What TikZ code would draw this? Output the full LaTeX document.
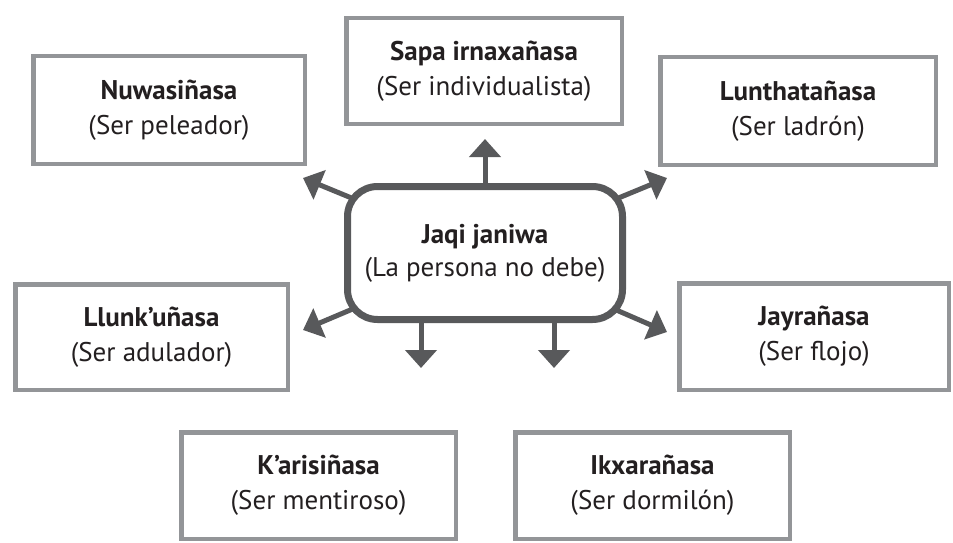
\documentclass[tikz,border=0pt]{standalone}
\usepackage{fontspec}
\setmainfont{PT Sans}
\usetikzlibrary{arrows.meta,backgrounds}
\definecolor{boxgray}{HTML}{939598}
\definecolor{arrowgray}{HTML}{58595B}
\definecolor{textblack}{HTML}{231F20}
\begin{document}
\begin{tikzpicture}[x=1pt,y=-1pt,
  leaf/.style={draw=boxgray, line width=4.5pt, fill=white, align=center, inner sep=0pt,
    text=textblack, font=\fontsize{27}{35}\selectfont},
  hub/.style={draw=arrowgray, line width=7pt, rounded corners=30pt, fill=white, align=center,
    inner sep=0pt, minimum width=275pt, minimum height=133pt, text=textblack,
    font=\fontsize{27}{33}\selectfont},
  arr/.style={draw=arrowgray, line width=5pt, -{Triangle[width=31pt,length=18pt]}}]
\useasboundingbox (0,0) rectangle (953,543);

\node[hub] (hub) at (485,253) {\textbf{Jaqi janiwa}\\(La persona no debe)};

\node[leaf, minimum width=271.5pt, minimum height=107.5pt] (nuw) at (169,110) {\textbf{Nuwasiñasa}\\(Ser peleador)};
\node[leaf, minimum width=275.5pt, minimum height=105.5pt] (sapa) at (484,71) {\textbf{Sapa irnaxañasa}\\(Ser individualista)};
\node[leaf, minimum width=275.5pt, minimum height=107.5pt] (lun) at (798,111) {\textbf{Lunthatañasa}\\(Ser ladrón)};
\node[leaf, minimum width=272.5pt, minimum height=105.5pt] (llu) at (151.5,337) {\textbf{Llunk’uñasa}\\(Ser adulador)};
\node[leaf, minimum width=269.5pt, minimum height=106.5pt] (jay) at (814,336.5) {\textbf{Jayrañasa}\\(Ser flojo)};
\node[leaf, minimum width=274.5pt, minimum height=106.5pt] (kar) at (318.5,485.5) {\textbf{K’arisiñasa}\\(Ser mentiroso)};
\node[leaf, minimum width=274.5pt, minimum height=106.5pt] (ikx) at (652.5,485.5) {\textbf{Ikxarañasa}\\(Ser dormilón)};

\coordinate (tU) at (485,139);
\coordinate (tUL) at (303,178);
\coordinate (tUR) at (667,178);
\coordinate (tL) at (303,330);
\coordinate (tR) at (667,332);
\coordinate (tDL) at (421,368);
\coordinate (tDR) at (554,368);

\begin{scope}[on background layer]
\draw[arr] (hub.center) -- (tU);
\draw[arr] (hub.center) -- (tUL);
\draw[arr] (hub.center) -- (tUR);
\draw[arr] (hub.center) -- (tL);
\draw[arr] (hub.center) -- (tR);
\draw[arr] (hub.center -| tDL) -- (tDL);
\draw[arr] (hub.center -| tDR) -- (tDR);
\end{scope}
\end{tikzpicture}
\end{document}
